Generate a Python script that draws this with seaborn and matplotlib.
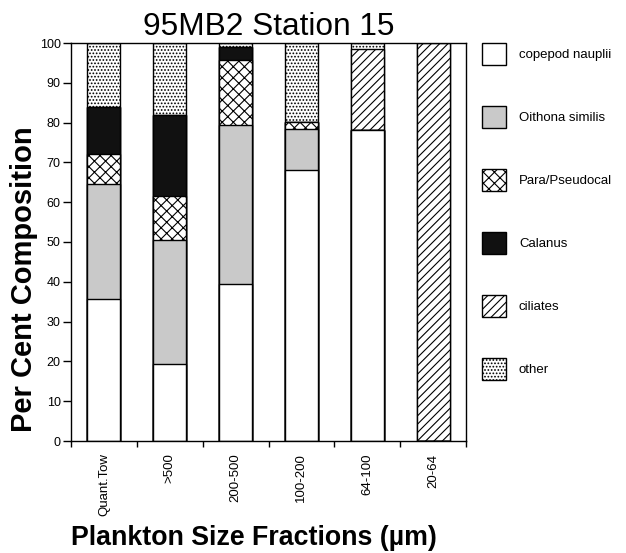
import numpy as np
import pandas as pd
import matplotlib
matplotlib.use("Agg")
import matplotlib.pyplot as plt
from matplotlib.patches import Patch
from matplotlib.ticker import FixedLocator
import seaborn as sns

# ---- data ----
fractions = ["Quant.Tow", ">500", "200-500", "100-200", "64-100", "20-64"]
groups = ["copepod nauplii", "Oithona similis", "Para/Pseudocal", "Calanus", "ciliates", "other"]
nauplii = [35.6, 19.4, 39.5, 68.2, 78.2, 0.0]
oithona = [29.0, 31.0, 40.0, 10.3, 0.0, 0.0]
para = [7.6, 11.1, 16.2, 1.6, 0.0, 0.0]
calanus = [11.6, 20.3, 3.3, 0.0, 0.0, 0.0]
ciliates = [0.0, 0.0, 0.0, 0.0, 20.2, 100.0]
other = [16.2, 18.2, 1.0, 19.9, 1.6, 0.0]
yticks = list(range(0, 101, 10))

series = [nauplii, oithona, para, calanus, ciliates, other]
styles = [
    dict(color="white", hatch=None),
    dict(color="#c9c9c9", hatch=None),
    dict(color="white", hatch="xxx"),
    dict(color="#111111", hatch=None),
    dict(color="white", hatch="////"),
    dict(color="white", hatch="....."),
]

sns.set_theme(style="ticks")
plt.rcParams["font.family"] = ["Liberation Sans", "DejaVu Sans"]
plt.rcParams["hatch.linewidth"] = 0.8
plt.rcParams["hatch.color"] = "black"
for k in ["text.color", "axes.labelcolor", "xtick.color", "ytick.color", "axes.edgecolor"]:
    plt.rcParams[k] = "black"

fig = plt.figure(figsize=(6.26, 5.53), dpi=100)
ax = fig.add_axes([71 / 626, 1 - 441 / 553, (466 - 71) / 626, (441 - 43) / 553])

cum = np.cumsum(np.array(series), axis=0)
df = pd.DataFrame({"fraction": fractions})
# draw cumulative layers from top down so lower layers overlay upper ones
for i in range(len(series) - 1, -1, -1):
    df["val"] = cum[i]
    st = styles[i]
    kw = dict(data=df, x="fraction", y="val", order=fractions, ax=ax,
              color=st["color"], saturation=1, width=0.5,
              edgecolor="black", linewidth=1.0)
    if st["hatch"]:
        kw["hatch"] = st["hatch"]
    sns.barplot(**kw)

ax.set_xlim(-0.5, len(fractions) - 0.5)
ax.set_ylim(0, 100)
ax.set_yticks(yticks)
ax.set_yticklabels([str(v) for v in yticks], fontsize=9)
ax.tick_params(axis="y", direction="out", length=6, width=1, pad=1.5, colors="black")
ax.set_xticks(range(len(fractions)))
ax.set_xticklabels(fractions, rotation=90, fontsize=9.5, va="top", ha="center", color="black")
ax.tick_params(axis="x", which="major", length=0, pad=9)
ax.xaxis.set_minor_locator(FixedLocator(np.arange(-0.5, len(fractions), 1.0)))
ax.tick_params(axis="x", which="minor", direction="out", length=4, width=1, color="black")
ax.set_xlabel("")
ax.set_ylabel("")
for s in ax.spines.values():
    s.set_visible(True)
    s.set_color("black")
    s.set_linewidth(1.0)

ax.set_title("95MB2 Station 15", fontsize=22.8, pad=6, color="black")
fig.text(24 / 626, 1 - 279 / 553, "Per Cent Composition", rotation=90,
         ha="center", va="center", fontsize=21, fontweight="bold", color="black")
fig.text(254 / 626, 1 - 545 / 553, "Plankton Size Fractions (\u00b5m)",
         ha="center", va="baseline", fontsize=19.3, fontweight="bold", color="black")

handles = [Patch(facecolor=st["color"], hatch=st["hatch"], edgecolor="black", linewidth=1.0)
           for st in styles]
leg = fig.legend(handles, groups, loc="upper left", bbox_to_anchor=(482 / 626, 1 - 43 / 553),
                 frameon=False, fontsize=9.5, handlelength=1.8, handleheight=2.2,
                 handletextpad=1.0, labelspacing=3.1, borderpad=0, borderaxespad=0)
for t in leg.get_texts():
    t.set_color("black")

fig.savefig("out.png", dpi=100)
